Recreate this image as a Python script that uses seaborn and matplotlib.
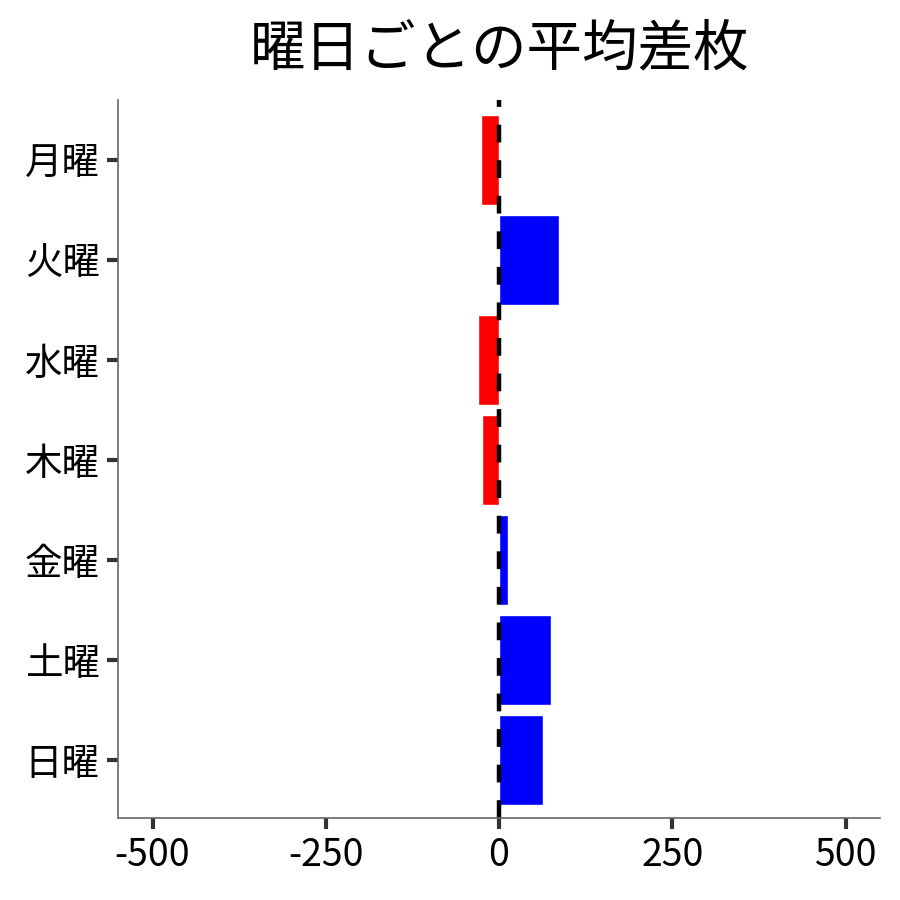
import numpy as np
import pandas as pd
import matplotlib
matplotlib.use("Agg")
import matplotlib.pyplot as plt
import seaborn as sns

# データ
days = ["月曜", "火曜", "水曜", "木曜", "金曜", "土曜", "日曜"]
avg_diff = [-26, 87, -30, -24, 13, 75, 63]

sns.set_style("ticks")
plt.rcParams["font.family"] = ["Noto Sans CJK JP", "DejaVu Sans"]
plt.rcParams["axes.unicode_minus"] = False

df = pd.DataFrame({"曜日": days, "平均差枚": avg_diff})
df["符号"] = np.where(df["平均差枚"] < 0, "neg", "pos")

fig = plt.figure(figsize=(9, 9), dpi=100)
ax = fig.add_axes([0.131, 0.091, 0.847, 0.798])

sns.barplot(data=df, x="平均差枚", y="曜日", hue="符号", orient="h",
            palette={"neg": "red", "pos": "blue"}, saturation=1,
            width=0.9, legend=False, ax=ax)

ax.axvline(0, color="black", linewidth=3.2, dashes=(4, 4))

ax.set_xlim(-550, 550)
ax.set_ylim(6.58, -0.6)
ax.set_xticks([-500, -250, 0, 250, 500])
ax.set_xlabel("")
ax.set_ylabel("")
ax.set_title("曜日ごとの平均差枚", fontsize=40, pad=25, color="black")

ax.tick_params(axis="both", labelsize=27, length=8, width=3, color="#333333",
               labelcolor="black", pad=5)
for side in ["left", "bottom"]:
    ax.spines[side].set_color("#666666")
    ax.spines[side].set_linewidth(1.2)
sns.despine(ax=ax)

fig.savefig("out.png", dpi=100)
